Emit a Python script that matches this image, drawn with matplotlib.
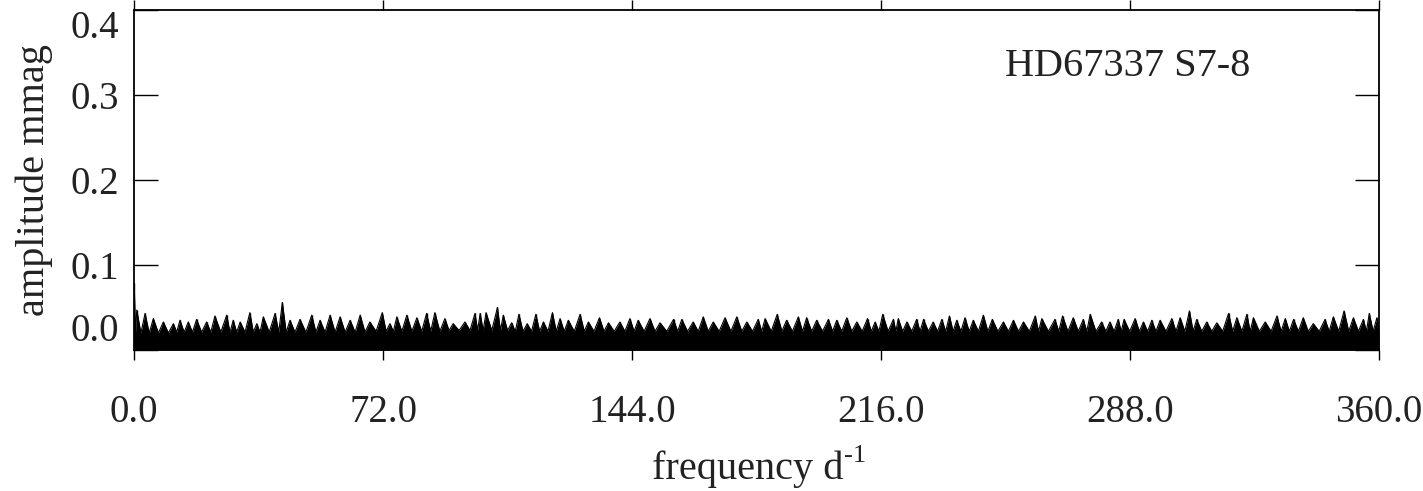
import matplotlib
matplotlib.use('Agg')
import matplotlib.pyplot as plt
import numpy as np

plt.rcParams['font.family'] = ['Liberation Serif', 'DejaVu Serif']

# spike tops (frequency d^-1, amplitude mmag)
peak_freq = [0.05, 0.8, 3.2, 5.6, 8.5, 11.4, 13.3, 15.7, 18.1, 21.0, 23.4, 26.8, 28.7,
             30.7, 33.5, 35.5, 37.4, 40.8, 42.9, 45.1, 48.0, 51.4, 53.8, 56.7, 59.6,
             62.5, 65.4, 68.2, 71.8, 74.0, 76.0, 78.9, 81.8, 84.6, 87.0, 89.9,
             92.3, 95.7, 98.6, 100.1, 101.8, 105.1, 106.8, 109.2, 111.3, 113.7, 116.2,
             118.4, 121.0, 123.2, 125.6, 129.0, 131.4, 134.6, 137.2, 140.5, 143.4,
             145.8, 149.2, 152.1, 156.0, 158.4, 161.7, 164.6, 167.5, 170.9, 174.3,
             177.2, 180.5,
             182.5, 186.0, 188.7, 192.1, 194.5, 197.4, 200.8, 203.2, 206.1, 209.0,
             212.1, 214.3, 216.5, 219.6, 221.0, 223.5, 226.3, 228.3, 231.1, 233.6,
             235.8, 237.9, 240.3, 242.7, 245.6, 248.2, 251.4, 254.3, 257.2, 260.6,
             262.5, 266.3, 268.5,
             271.6, 274.5, 276.5, 279.8, 282.2, 284.6, 286.3, 289.5, 291.9, 294.3,
             296.7, 300.1, 302.5, 305.2, 307.3, 310.2, 313.1, 316.5, 318.9, 321.8,
             323.7, 327.1, 330.5, 332.9, 335.3, 338.1, 341.0, 344.4, 346.8, 349.9,
             352.6, 355.5, 357.2, 359.4]
peak_amp = [0.079, 0.047, 0.043, 0.037, 0.033, 0.031, 0.035, 0.033, 0.036, 0.033, 0.040,
            0.041, 0.035, 0.033, 0.044, 0.031, 0.039, 0.043, 0.056, 0.035, 0.036, 0.041,
            0.035, 0.041, 0.039, 0.035, 0.041, 0.033, 0.044, 0.031, 0.039, 0.041, 0.038,
            0.043, 0.044, 0.037,
            0.031, 0.033, 0.043, 0.043, 0.044, 0.050, 0.041, 0.032, 0.042, 0.031, 0.042,
            0.033, 0.044, 0.037, 0.035, 0.042, 0.033, 0.038, 0.032, 0.033, 0.037, 0.035,
            0.037, 0.032, 0.036, 0.036, 0.033, 0.039, 0.033, 0.038, 0.039, 0.033, 0.036,
            0.037, 0.042, 0.035, 0.039, 0.038, 0.035, 0.036, 0.035, 0.038, 0.033, 0.037,
            0.033, 0.042, 0.036, 0.037, 0.033, 0.036, 0.036, 0.033, 0.036, 0.040, 0.035,
            0.038, 0.035, 0.041, 0.036, 0.033, 0.035, 0.033, 0.040, 0.037, 0.036, 0.040,
            0.038, 0.036, 0.042, 0.033, 0.033, 0.036, 0.036, 0.037, 0.033, 0.035, 0.035,
            0.037, 0.038, 0.046, 0.036, 0.033, 0.032, 0.043, 0.038, 0.042, 0.038, 0.033,
            0.040, 0.037, 0.036, 0.038, 0.031, 0.036, 0.039, 0.046, 0.038, 0.036, 0.043,
            0.038]

# solid noise floor, sampled every 20 d^-1
body_freq = [0, 20, 40, 60, 80, 100, 120, 140, 160, 180, 200, 220, 240, 260, 280,
             300, 320, 340, 360]
body_amp = [0.020, 0.021, 0.021, 0.021, 0.022, 0.023, 0.022, 0.022, 0.022, 0.022,
            0.022, 0.022, 0.022, 0.022, 0.022, 0.022, 0.022, 0.022, 0.022]

xticks = [0.0, 72.0, 144.0, 216.0, 288.0, 360.0]
yticks = [0.0, 0.1, 0.2, 0.3, 0.4]

# spectrum trace: each read spike top, dropping back to the floor between spikes
xs, ys = [], []
for i, f in enumerate(peak_freq):
    xs.append(f)
    ys.append(peak_amp[i])
    if i < len(peak_freq) - 1:
        mid = 0.5 * (f + peak_freq[i + 1])
        xs.append(mid)
        ys.append(body_amp[int(round(mid / 20.0))])
xs.append(360.0)
ys.append(body_amp[-1])

fig = plt.figure(figsize=(14.23, 4.91), dpi=100)
ax = fig.add_axes([0.09417, 0.28717, 0.87491, 0.69246])

ax.fill_between(xs, 0, ys, color='k', lw=0)
ax.plot(xs, ys, color='k', lw=0.8)
ax.vlines(peak_freq, 0, peak_amp, color='k', lw=1.0)

ax.set_xlim(0, 360)
ax.set_ylim(0, 0.4)
ax.set_xticks(xticks)
ax.set_xticklabels(['%.1f' % t for t in xticks])
ax.set_yticks(yticks)
ax.set_yticklabels(['%.1f' % t for t in yticks])

for s in ax.spines.values():
    s.set_linewidth(1.3)
ax.tick_params(axis='x', direction='out', length=7.5, width=1.0, top=True,
               labelsize=28, pad=24, labelcolor='#222222')
ax.tick_params(axis='y', direction='in', length=17, width=1.0, right=True,
               labelsize=28, pad=11, labelcolor='#222222')
ylabs = ax.get_yticklabels()
ylabs[0].set_verticalalignment('bottom')
ylabs[-1].set_verticalalignment('top')

# axis label with a plain hyphen in the superscript, as in the original
fig.text(843 / 1423, 1 - 479 / 491, 'frequency d', fontsize=29, color='#222222',
         ha='right', va='baseline')
fig.text(844 / 1423, 1 - 462 / 491, '-1', fontsize=19, color='#222222',
         ha='left', va='baseline')
ax.set_ylabel('amplitude mmag', fontsize=29, color='#222222', labelpad=12)
ax.text(287.4, 0.333, 'HD67337 S7-8', fontsize=29, color='#222222', ha='center', va='center')

fig.savefig('out.png', dpi=100)
